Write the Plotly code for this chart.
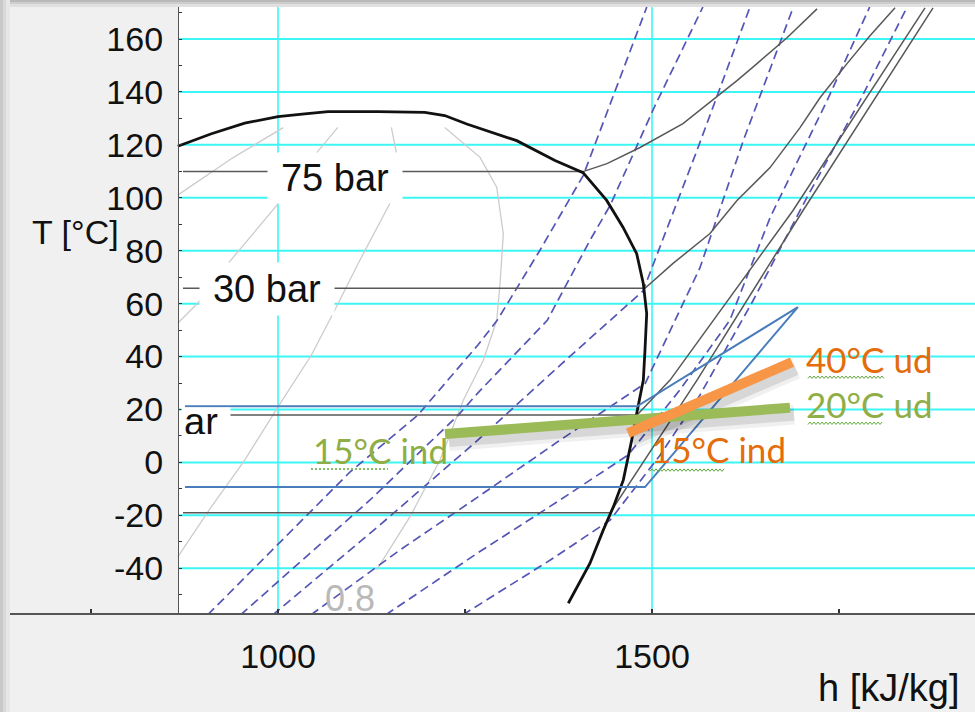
import plotly.graph_objects as go

# ---------------- axes ----------------
H_RANGE = [641.7, 1931.8]      # kJ/kg
T_RANGE = [-56.9, 172.1]       # degC
H_DIAGRAM_START = 866.3        # left border of the diagram (where the T axis sits)

x_ticks = [750, 1000, 1250, 1500, 1750]
x_labels = ["", "1000", "", "1500", ""]
y_ticks = list(range(-50, 171, 10))
y_labels = [str(t) if t % 20 == 0 else "" for t in y_ticks]
h_grid = [1000, 1500]
T_grid = [-40, -20, 0, 20, 40, 60, 80, 100, 120, 140, 160]

# ---------------- saturation dome ----------------
dome_h = [866, 911, 955.5, 1000, 1035.7, 1066.8, 1133.7, 1196.1, 1222.9, 1252.3, 1319.1,
          1370.3, 1407.8, 1439.4, 1461.2, 1479.5, 1488.4, 1492.9, 1490.6, 1488.4, 1479.5,
          1472.8, 1461.6, 1448.3, 1434.9, 1417.1, 1388.1]
dome_T = [119.5, 124.2, 128.2, 130.7, 131.7, 132.6, 132.6, 132.3, 131.1, 127.9, 121.6,
          114.1, 109.5, 99.0, 88.9, 78.9, 67.5, 56.2, 42.4, 31.1, 18.5,
          8.4, -6.7, -16.8, -25.5, -38.1, -53.2]

# ---------------- isobars ----------------
p75_h = [873, 1407.8, 1439.8, 1484.0, 1541.4, 1577.5, 1613.6, 1640.4, 1680.5, 1720.6]
p75_T = [109.9, 109.9, 112.9, 119.0, 128.0, 136.0, 144.3, 150.7, 160.5, 171.4]
p30_h = [873, 1490.6, 1528.1, 1577.5, 1613.6, 1657.8, 1697.9, 1724.6, 1760.7, 1791.4, 1824.9]
p30_T = [65.8, 65.8, 75.2, 86.5, 99.0, 111.4, 126.5, 137.8, 150.7, 161.2, 171.8]
p8_h = [873, 1480, 1524.1, 1688.5, 1865.0]
p8_T = [17.9, 17.9, 31.1, 95.2, 171.8]
p2_h = [873, 1444, 1560.2, 1701.9, 1875.7]
p2_T = [-19.0, -19.0, 31.1, 95.2, 171.8]

# ---------------- vapour quality lines ----------------
q1_h = [866, 940, 1007]
q1_T = [101.0, 115.2, 126.5]
q2_h = [1080, 1051, 1000, 933, 896, 866]
q2_T = [126.6, 116.8, 97.7, 75.1, 61.2, 52.6]
q3_h = [1151.5, 1158.2, 1149.3, 1107, 1075.8, 1044.5, 1000, 955.5, 910.8, 866]
q3_T = [126.6, 117.2, 97.7, 75.1, 57.5, 40.5, 21.0, 0.9, -16.8, -35.7]
q4_h = [1222.9, 1270.1, 1292.4, 1301.2, 1296.8, 1292.4, 1274.5, 1247.7, 1216.6, 1176.5, 1131.9]
q4_T = [126.6, 115.3, 104.0, 86.4, 67.5, 53.7, 38.6, 23.5, 0.9, -20.5, -40.6]

# ---------------- isentropes ----------------
s1_h = [906, 1096, 1187, 1267, 1293, 1350, 1408, 1457, 1493]
s1_T = [-57.6, -3.7, 17.9, 44.3, 53.7, 80.1, 108.4, 145.4, 172.1]
s2_h = [950, 1123, 1241, 1267, 1360, 1417, 1444, 1504, 1568]
s2_T = [-57.6, -14.2, 17.9, 26.2, 53.7, 83.9, 97.1, 134.8, 172.1]
s3_h = [993, 1136, 1267, 1377, 1488, 1507, 1560, 1631]
s3_T = [-57.6, -23.7, 8.4, 36.7, 64.8, 78.7, 117.8, 172.1]
s4_h = [1044, 1163, 1267, 1377, 1491, 1524, 1564, 1622, 1689]
s4_T = [-57.6, -33.1, -13.1, 8.4, 29.9, 49.9, 73.5, 121.6, 172.1]
s5_h = [1144, 1267, 1377, 1468, 1537, 1604, 1658, 1734, 1791]
s5_T = [-57.6, -34.2, -14.2, 2.8, 27.3, 53.7, 92.6, 136.7, 172.1]
s6_h = [1247, 1364, 1444, 1511, 1564, 1635, 1707, 1778, 1841]
s6_T = [-57.6, -36.9, -21.8, 2.8, 25.4, 61.1, 100.1, 136.7, 172.1]

# ---------------- heat pump cycle ----------------
cycle_h = [875.7, 1480, 1695, 1490.6, 875.7]
cycle_T = [21.2, 21.2, 58.7, -9.3, -9.3]

# ---------------- source / sink streams ----------------
sink_h = [1467.9, 1687.2]      # 15 degC in -> 40 degC out
sink_T = [11.1, 37.9]
source_h = [1223.3, 1684.5]    # 15 degC in -> 20 degC out
source_T = [10.7, 20.7]

# ---------------- styles ----------------
GRID = "#3cf6f6"
ISOBAR = "#585858"
QUAL = "#cccccc"
ISEN = "#5555b6"
CYCLE = "#4a7dbb"
ORANGE_LINE = "#f79646"
GREEN_LINE = "#9bbb59"
ORANGE_TXT = "#e46c0a"
GREEN_TXT = "#8fae45"
SPELL = "#5fa83a"
AXIS_FONT = "Liberation Sans, Arial, sans-serif"
NOTE_FONT = "Lato, sans-serif"

W, H = 975, 712
ML, MR, MT, MB = 10, 0, 7, 99
plot_w = W - ML - MR
plot_h = H - MT - MB
H_PER_PX = (H_RANGE[1] - H_RANGE[0]) / plot_w
T_PER_PX = (T_RANGE[1] - T_RANGE[0]) / plot_h


def px_x(px):
    return (px - ML) / plot_w


def px_y(py):
    return (H - MB - py) / plot_h


fig = go.Figure()


def add_line(h, T, color, width, dash="solid"):
    fig.add_trace(go.Scatter(x=h, y=T, mode="lines",
                             line=dict(color=color, width=width, dash=dash),
                             hoverinfo="skip", showlegend=False))


for qh, qT in [(q1_h, q1_T), (q2_h, q2_T), (q3_h, q3_T), (q4_h, q4_T)]:
    add_line(qh, qT, QUAL, 1.3)

for sh, sT in [(s1_h, s1_T), (s2_h, s2_T), (s3_h, s3_T), (s4_h, s4_T), (s5_h, s5_T), (s6_h, s6_T)]:
    add_line(sh, sT, ISEN, 1.7, dash="9px,5px")

for ph, pT in [(p75_h, p75_T), (p30_h, p30_T), (p8_h, p8_T), (p2_h, p2_T)]:
    add_line(ph, pT, ISOBAR, 1.5)

add_line(dome_h, dome_T, "#111111", 2.8)
add_line(cycle_h, cycle_T, CYCLE, 2)

# soft drop shadows under the two stream lines
for lh, lT in [(source_h, source_T), (sink_h, sink_T)]:
    sh_h = [v + 4 * H_PER_PX for v in lh]
    sh_T = [v - 7 * T_PER_PX for v in lT]
    add_line(sh_h, sh_T, "rgba(0,0,0,0.06)", 20)
    add_line(sh_h, sh_T, "rgba(0,0,0,0.10)", 12)
add_line(source_h, source_T, GREEN_LINE, 10)
add_line(sink_h, sink_T, ORANGE_LINE, 10)

# ---------------- shapes: diagram background, grid, window frame ----------------
shapes = [dict(type="rect", xref="x", yref="y", x0=H_DIAGRAM_START, x1=H_RANGE[1],
               y0=T_RANGE[0], y1=T_RANGE[1], fillcolor="white", line_width=0, layer="below")]
for t in T_grid:
    shapes.append(dict(type="line", xref="x", yref="y", x0=H_DIAGRAM_START, x1=H_RANGE[1],
                       y0=t, y1=t, line=dict(color=GRID, width=2), layer="below"))
for hv in h_grid:
    shapes.append(dict(type="line", xref="x", yref="y", x0=hv, x1=hv,
                       y0=T_RANGE[0], y1=T_RANGE[1], line=dict(color=GRID, width=1.6), layer="below"))

frame_top = [(0, 2, "#b9b9b9"), (2, 4, "#cdcdcd"), (4, 7, "#e0e0e0")]
for a, b, c in frame_top:
    shapes.append(dict(type="rect", xref="paper", yref="paper", x0=px_x(0), x1=px_x(W),
                       y0=px_y(b), y1=px_y(a), fillcolor=c, line_width=0, layer="above"))
frame_left = [(0, 3, "#c9c9c9"), (3, 6, "#d9d9d9"), (6, 10, "#e6e6e6")]
for a, b, c in frame_left:
    shapes.append(dict(type="rect", xref="paper", yref="paper", x0=px_x(a), x1=px_x(b),
                       y0=px_y(H), y1=px_y(0), fillcolor=c, line_width=0, layer="above"))


def squiggle(h0, h1, T, wavy=True):
    """Spell-check style underline below a note (wavy or dotted)."""
    if not wavy:
        shapes.append(dict(type="line", xref="x", yref="y", x0=h0, x1=h1, y0=T, y1=T,
                           line=dict(color=SPELL, width=1.6, dash="2px,2px"), layer="above"))
        return
    step = 2 * H_PER_PX
    amp = 1.2 * T_PER_PX
    pts = []
    h = h0
    k = 0
    while h <= h1:
        pts.append((h, T + (amp if k % 2 else -amp)))
        h += step
        k += 1
    path = "M " + " L ".join(f"{a:.2f},{b:.3f}" for a, b in pts)
    shapes.append(dict(type="path", xref="x", yref="y", path=path,
                       line=dict(color=SPELL, width=1), layer="above"))


squiggle(1708.5, 1811.5, 32.2)
squiggle(1708.5, 1807.5, 14.8)
squiggle(1497.3, 1597.6, -2.9)
squiggle(1044.1, 1147.1, -2.5, wavy=False)

# ---------------- text ----------------
ann = []


def label_box(text, h, T, w, hgt, size=38, align="center"):
    ann.append(dict(text=text, x=h, y=T, xref="x", yref="y", showarrow=False,
                    font=dict(family=AXIS_FONT, size=size, color="#111111"),
                    bgcolor="white", width=w, height=hgt, borderpad=2, align=align))


label_box("75 bar", 1076.2, 107.3, 130, 46)
label_box("30 bar", 985.3, 65.4, 130, 48)
label_box("ar", 903.7, 15.2, 44, 24, align="left")

ann.append(dict(text="0.8", x=1096.3, y=-51.4, xref="x", yref="y", showarrow=False,
                font=dict(family=AXIS_FONT, size=36, color="#b9b9b9")))

ann.append(dict(text="T [°C]", x=728.6, y=86.9, xref="x", yref="y", showarrow=False,
                font=dict(family=AXIS_FONT, size=34, color="#111111")))
ann.append(dict(text="h [kJ/kg]", x=1816.8, y=px_y(688), xref="x", yref="paper",
                yanchor="middle", showarrow=False,
                font=dict(family=AXIS_FONT, size=38, color="#111111")))


def note(text, h, T, color):
    ann.append(dict(text=text, x=h, y=T, xref="x", yref="y", showarrow=False,
                    font=dict(family=NOTE_FONT, size=35, color=color)))


note("40°C ud", 1791.4, 39.0, ORANGE_TXT)
note("20°C ud", 1791.4, 22.0, GREEN_TXT)
note("15°C ind", 1588.9, 5.0, ORANGE_TXT)
note("15°C ind", 1136.4, 4.6, GREEN_TXT)

fig.update_layout(
    width=W, height=H,
    margin=dict(l=ML, r=MR, t=MT, b=MB, pad=0),
    paper_bgcolor="#f0f0f0",
    plot_bgcolor="#f0f0f0",
    shapes=shapes,
    annotations=ann,
    showlegend=False,
    xaxis=dict(range=H_RANGE, tickvals=x_ticks, ticktext=x_labels, ticks="inside",
               ticklen=4, tickwidth=1.5, tickcolor="#333333", showgrid=False, zeroline=False,
               showline=True, linecolor="#555555", linewidth=2,
               tickfont=dict(family=AXIS_FONT, size=34, color="#111111"),
               ticklabelstandoff=12),
    yaxis=dict(range=T_RANGE, tickvals=y_ticks, ticktext=y_labels, ticks="inside",
               ticklen=3, tickwidth=1.2, tickcolor="#333333", showgrid=False, zeroline=False,
               showline=True, linecolor="#555555", linewidth=1.2,
               anchor="free", position=(H_DIAGRAM_START - H_RANGE[0]) / (H_RANGE[1] - H_RANGE[0]),
               tickfont=dict(family=AXIS_FONT, size=34, color="#111111"),
               ticklabelstandoff=8),
)

fig.write_html("out.html")
